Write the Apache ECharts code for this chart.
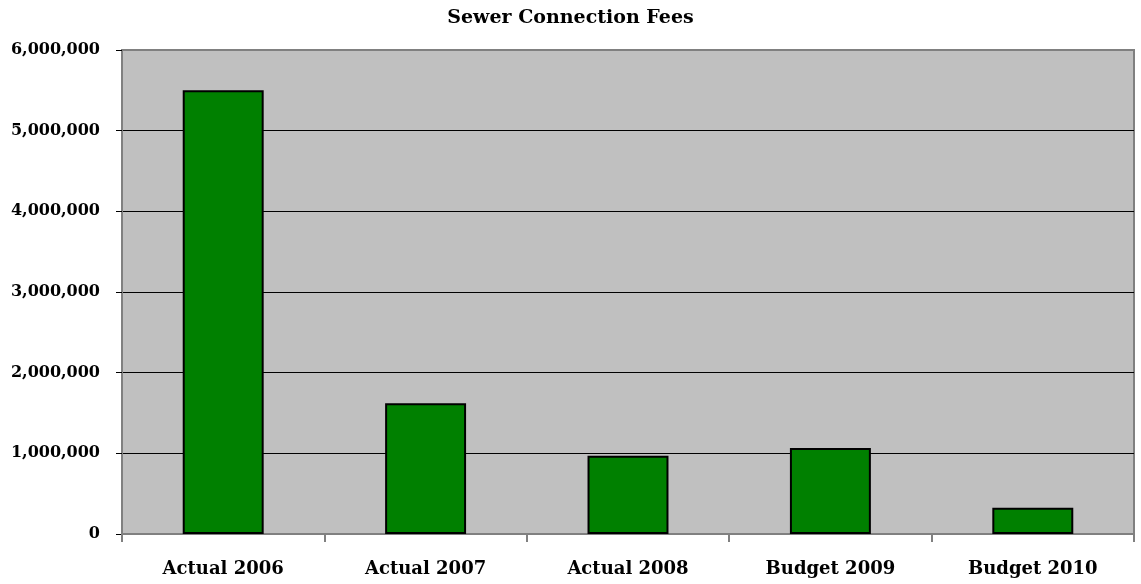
<!DOCTYPE html>
<html>
<head>
<meta charset="utf-8">
<script src="https://cdn.jsdelivr.net/npm/echarts@6/dist/echarts.min.js"></script>
<style>
  html, body { margin: 0; padding: 0; background: #fff; }
  #chart { width: 1141px; height: 584px; }
</style>
</head>
<body>
<div id="chart"></div>
<script>
// data
var categories = ['Actual 2006', 'Actual 2007', 'Actual 2008', 'Budget 2009', 'Budget 2010'];
var fees = [5500000, 1620000, 970000, 1065000, 325000];

var serif = '"DejaVu Serif", "Liberation Serif", serif';

var myChart = echarts.init(document.getElementById('chart'));
var option = {
  animation: false,
  title: {
    text: 'Sewer Connection Fees',
    left: 'center',
    top: 4,
    textStyle: { fontFamily: serif, fontSize: 19, fontWeight: 'bold', color: '#000' }
  },
  grid: {
    left: 122, right: 7, top: 50, bottom: 50,
    show: true,
    backgroundColor: '#c0c0c0',
    borderColor: '#808080',
    borderWidth: 2
  },
  xAxis: {
    type: 'category',
    data: categories,
    axisLine: { lineStyle: { color: '#808080', width: 2 } },
    axisTick: { show: true, length: 8, lineStyle: { color: '#808080', width: 2 } },
    axisLabel: { margin: 26, fontFamily: serif, fontSize: 18, fontWeight: 'bold', color: '#000' }
  },
  yAxis: {
    type: 'value',
    min: 0, max: 6000000, interval: 1000000,
    axisLine: { show: true, lineStyle: { color: '#808080', width: 2 } },
    axisTick: { show: true, length: 6, lineStyle: { color: '#000', width: 1 } },
    axisLabel: {
      margin: 22, fontFamily: serif, fontSize: 16, fontWeight: 'bold', color: '#000',
      formatter: function (v) { return v.toLocaleString('en-US'); }
    },
    splitLine: { showMaxLine: false, showMinLine: false, lineStyle: { color: '#000', width: 1 } }
  },
  series: [{
    type: 'bar',
    data: fees,
    barWidth: '40%',
    itemStyle: { color: '#008000', borderColor: '#000', borderWidth: 2 }
  }]
};
myChart.setOption(option, true);
</script>
</body>
</html>
